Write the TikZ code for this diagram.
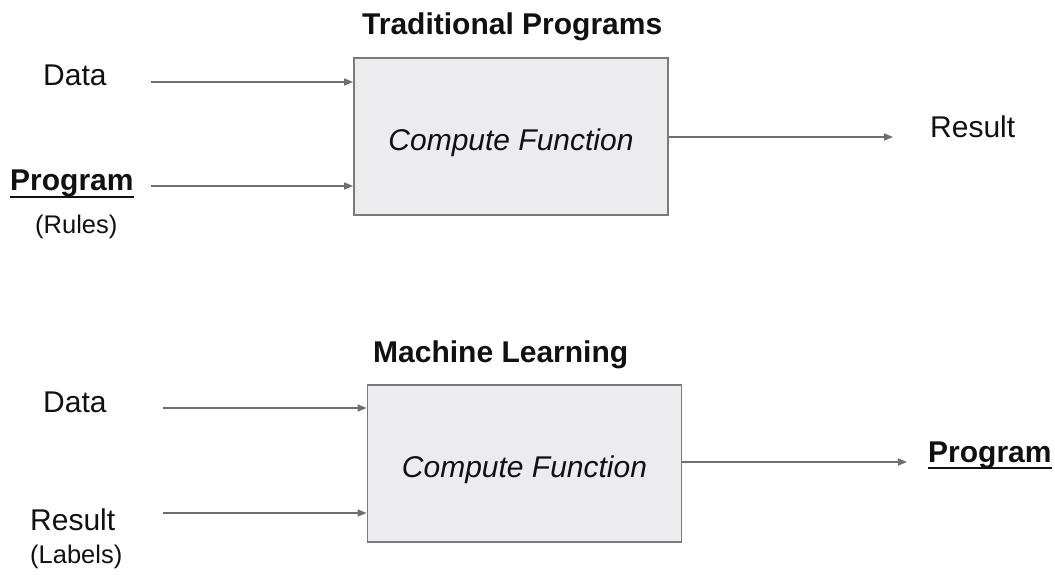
\documentclass[tikz,border=0pt]{standalone}
\usepackage{fontspec}
\setmainfont{Liberation Sans}
\usetikzlibrary{arrows.meta}

\definecolor{boxfill}{HTML}{ECECEE}
\definecolor{boxline}{HTML}{7A7A7A}
\definecolor{wire}{HTML}{6E6E6E}
\definecolor{ink}{HTML}{111111}

\tikzset{
  lbl/.style={inner sep=0pt, anchor=base west, text=ink, font=\fontsize{30}{36}\selectfont},
  sublbl/.style={inner sep=0pt, anchor=base west, text=ink, font=\fontsize{25.5}{30}\selectfont},
  title/.style={lbl, font=\fontsize{30}{36}\selectfont\bfseries},
  keyword/.style={lbl, font=\fontsize{30}{36}\selectfont\bfseries},
  funcbox/.style={draw=boxline, line width=1.8pt, fill=boxfill, inner sep=0pt,
    minimum width=314pt, minimum height=157pt, text=ink,
    font=\fontsize{30}{36}\selectfont\itshape, text height=27pt, text depth=0pt},
  flow/.style={draw=wire, line width=1.5pt, -{Triangle[length=9pt,width=7pt]}},
  uline/.style={draw=ink, line width=2.2pt}
}

\begin{document}
\begin{tikzpicture}[x=1pt, y=-1pt]
  \useasboundingbox[fill=white] (0,0) rectangle (1055,575);

  % ---- traditional programs ----
  \node[title] (t1) at (362,35) {Traditional Programs};
  \node[funcbox] (box1) at (511,136.5) {Compute Function};
  \node[lbl] (data1) at (43,86) {Data};
  \node[keyword] (prog1) at (10,190) {Program};
  \draw[uline] ([yshift=-7pt]prog1.base west) -- ([yshift=-7pt]prog1.base east);
  \node[sublbl] (rules) at (35,233) {(Rules)};
  \node[lbl] (res1) at (930,138) {Result};

  \coordinate (in1a) at (151,82);
  \coordinate (in1b) at (151,186);
  \coordinate (out1) at (893,137);
  \draw[flow] (in1a) -- (box1.west |- in1a);
  \draw[flow] (in1b) -- (box1.west |- in1b);
  \draw[flow] (box1.east |- out1) -- (out1);

  % ---- machine learning ----
  \node[title] (t2) at (373,362) {Machine Learning};
  \node[funcbox] (box2) at (524.5,463.5) {Compute Function};
  \node[lbl] (data2) at (43,412) {Data};
  \node[lbl] (res2) at (30,530) {Result};
  \node[sublbl] (labels) at (30,563) {(Labels)};
  \node[keyword] (prog2) at (928,462) {Program};
  \draw[uline] ([yshift=-6pt]prog2.base west) -- ([yshift=-6pt]prog2.base east);

  \coordinate (in2a) at (163,408);
  \coordinate (in2b) at (163,513);
  \coordinate (out2) at (907,462);
  \draw[flow] (in2a) -- (box2.west |- in2a);
  \draw[flow] (in2b) -- (box2.west |- in2b);
  \draw[flow] (box2.east |- out2) -- (out2);
\end{tikzpicture}
\end{document}
